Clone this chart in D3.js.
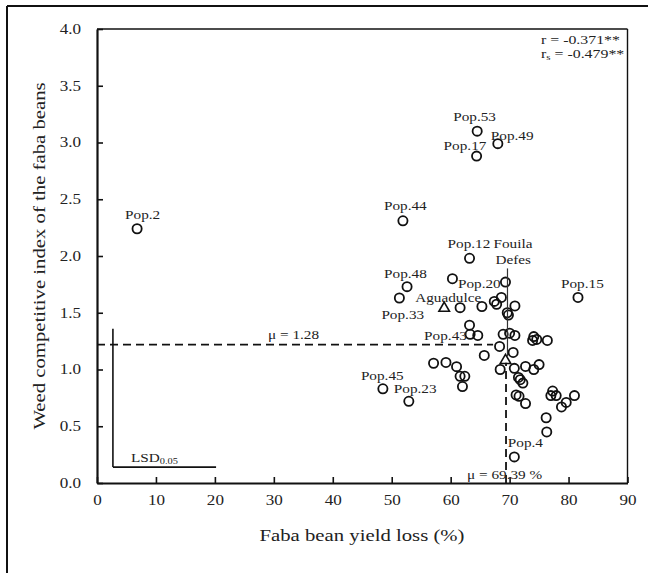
<!DOCTYPE html>
<html>
<head>
<meta charset="utf-8">
<script src="https://cdn.jsdelivr.net/npm/d3@7/dist/d3.min.js"></script>
<style>
  html, body { margin: 0; padding: 0; background: #fff; }
  svg { display: block; }
  text { font-family: "Liberation Serif", "Times New Roman", serif; fill: #222; }
</style>
</head>
<body>
<svg id="chart" width="648" height="573"></svg>
<script>
// ---------------- data ----------------
const popNames = ["Pop.2","Pop.44","Pop.53","Pop.49","Pop.17","Pop.12","Pop.48","Pop.33","Pop.15","Pop.45","Pop.23","Pop.4","Pop.20","Pop.43",
  "","","","","","","","","","","","","","","","","","","","","","","","","","","","","","","","","","","","","","","","","","","","","",""];
const yieldLoss = [6.8, 51.9, 64.5, 68.0, 64.4, 63.2, 52.6, 51.3, 81.6, 48.5, 52.9, 70.8, 60.3, 63.3,
  69.3, 68.6, 67.4, 67.8, 65.3, 61.6, 70.9, 69.6, 69.8, 63.2, 64.6, 68.9, 70.0, 70.9, 74.1, 73.9,
  74.6, 76.4, 65.7, 68.3, 70.6, 57.1, 59.2, 61.0, 61.6, 62.4, 62.0, 68.4, 70.8, 72.7, 74.1, 75.0,
  71.5, 71.8, 72.25, 71.1, 71.6, 72.7, 77.3, 77.0, 77.9, 81.0, 79.6, 78.8, 76.2, 76.3];
const competitiveIndex = [2.24, 2.31, 3.10, 2.99, 2.88, 1.98, 1.73, 1.63, 1.635, 0.83, 0.72, 0.23, 1.80, 1.31,
  1.77, 1.635, 1.60, 1.575, 1.555, 1.545, 1.56, 1.50, 1.48, 1.39, 1.30, 1.31, 1.32, 1.30, 1.29, 1.256,
  1.265, 1.256, 1.124, 1.203, 1.15, 1.055, 1.062, 1.025, 0.94, 0.94, 0.85, 1.00, 1.01, 1.027, 1.00, 1.043,
  0.93, 0.91, 0.88, 0.776, 0.764, 0.70, 0.81, 0.77, 0.77, 0.77, 0.71, 0.67, 0.575, 0.45];
const checkNames = ["Aguadulce", "Fouila Defes"];
const checkYieldLoss = [58.9, 69.3];
const checkIndex = [1.54, 1.08];
const xTicks = [0, 10, 20, 30, 40, 50, 60, 70, 80, 90];
const yTicks = [0, 0.5, 1.0, 1.5, 2.0, 2.5, 3.0, 3.5, 4.0];
const meanYieldLoss = 69.39;   // vertical dashed line
const meanIndexLine = 1.22;    // horizontal dashed line as drawn
const meanIndexLabel = "μ = 1.28";
const meanYieldLabel = "μ = 69.39 %";
const vLineTop = 1.06;         // top of vertical dashed line
const hLineEnd = 67.2;         // right end of horizontal dashed line
const lsdOrigin = [2.7, 0.14];
const lsdX = 17.5;
const lsdY = 1.22;
const corrPearson = "-0.371**";
const corrSpearman = "-0.479**";

// ---------------- layout ----------------
const K = 1.22; // horizontal text stretch
const svg = d3.select("#chart");
const x = d3.scaleLinear().domain([0, 90]).range([97, 627.5]);
const y = d3.scaleLinear().domain([0, 4]).range([483, 29]);

function addText(parent, px, py, str, size, anchor, rot) {
  const g = parent.append("g")
    .attr("transform", `translate(${px},${py})` + (rot ? ` rotate(${rot})` : "") + ` scale(${K},1)`);
  const t = g.append("text").attr("font-size", size).attr("text-anchor", anchor || "start").text(str);
  return t;
}

// outer frame (partially visible)
svg.append("line").attr("x1", 7).attr("y1", 6).attr("x2", 648).attr("y2", 6).attr("stroke", "#111").attr("stroke-width", 2);
svg.append("line").attr("x1", 7).attr("y1", 6).attr("x2", 7).attr("y2", 573).attr("stroke", "#111").attr("stroke-width", 2);

// plot box top/right
svg.append("line").attr("x1", x(0)).attr("y1", y(4)).attr("x2", x(90)).attr("y2", y(4)).attr("stroke", "#111").attr("stroke-width", 1.4);
svg.append("line").attr("x1", x(90)).attr("y1", y(4)).attr("x2", x(90)).attr("y2", y(0)).attr("stroke", "#111").attr("stroke-width", 1.4);

// axes
const xAxis = svg.append("g").attr("transform", `translate(0,${y(0)})`)
  .call(d3.axisBottom(x).tickValues(xTicks).tickSizeInner(-6).tickSizeOuter(0).tickPadding(12).tickFormat(d3.format("d")));
const yAxis = svg.append("g").attr("transform", `translate(${x(0)},0)`)
  .call(d3.axisLeft(y).tickValues(yTicks).tickSizeInner(-6).tickSizeOuter(0).tickPadding(16).tickFormat(d3.format(".1f")));
[xAxis, yAxis].forEach(a => {
  a.select(".domain").attr("stroke", "#111").attr("stroke-width", 2.2);
  a.selectAll(".tick line").attr("stroke", "#111").attr("stroke-width", 1.6);
  a.selectAll(".tick text").attr("font-size", 14).attr("fill", "#222")
    .attr("font-family", "Liberation Serif, serif");
});
xAxis.selectAll(".tick text").attr("transform", `scale(${K},1)`);
yAxis.selectAll(".tick text").attr("x", -16 / K).attr("transform", `scale(${K},1)`);

// axis titles
addText(svg, 362, 541, "Faba bean yield loss (%)", 17, "middle");
addText(svg, 45, 256, "Weed competitive index of the faba beans", 17, "middle", -90);

// mean lines
svg.append("line").attr("x1", x(0)).attr("x2", x(hLineEnd)).attr("y1", y(meanIndexLine)).attr("y2", y(meanIndexLine))
  .attr("stroke", "#111").attr("stroke-width", 1.8).attr("stroke-dasharray", "8,5");
svg.append("line").attr("x1", x(meanYieldLoss)).attr("x2", x(meanYieldLoss)).attr("y1", y(0)).attr("y2", y(vLineTop))
  .attr("stroke", "#111").attr("stroke-width", 1.8).attr("stroke-dasharray", "8,5");
addText(svg, 268, 339, meanIndexLabel, 12.5, "start");
addText(svg, 467, 479, meanYieldLabel, 12.5, "start");

// LSD bars
svg.append("line").attr("x1", x(lsdOrigin[0])).attr("x2", x(lsdOrigin[0])).attr("y1", y(lsdOrigin[1])).attr("y2", y(lsdOrigin[1] + lsdY))
  .attr("stroke", "#111").attr("stroke-width", 1.6);
svg.append("line").attr("x1", x(lsdOrigin[0])).attr("x2", x(lsdOrigin[0] + lsdX)).attr("y1", y(lsdOrigin[1])).attr("y2", y(lsdOrigin[1]))
  .attr("stroke", "#111").attr("stroke-width", 1.6);
{
  const t = addText(svg, 131, 462, "LSD", 12.5, "start");
  t.append("tspan").attr("font-size", 8.5).attr("dy", 1.5).text("0.05");
}

// correlation text
{
  const t1 = addText(svg, 541, 44, "r = " + corrPearson, 13, "start");
  const t2 = addText(svg, 541, 58, "r", 13, "start");
  t2.append("tspan").attr("font-size", 9).attr("dy", 2).text("s");
  t2.append("tspan").attr("dy", -2).text(" = " + corrSpearman);
}

// points
const pts = yieldLoss.map((v, i) => ({ name: popNames[i], x: v, y: competitiveIndex[i] }));
svg.append("g").selectAll("circle").data(pts).join("circle")
  .attr("cx", d => x(d.x)).attr("cy", d => y(d.y)).attr("r", 4.6)
  .attr("fill", "none").attr("stroke", "#111").attr("stroke-width", 1.8);

// check cultivars as triangles
const checks = checkYieldLoss.map((v, i) => ({ name: checkNames[i], x: v, y: checkIndex[i] }));
svg.append("g").selectAll("path").data(checks).join("path")
  .attr("d", d3.symbol().type(d3.symbolTriangle).size(48))
  .attr("transform", d => `translate(${x(d.x)},${y(d.y)})`)
  .attr("fill", "none").attr("stroke", "#111").attr("stroke-width", 1.6);

// point labels (offsets in px, start-anchored)
const labelOffsets = {
  "Pop.2": [-12, -10], "Pop.44": [-19, -11], "Pop.53": [-24, -10], "Pop.49": [-7, -4],
  "Pop.17": [-33, -6.5], "Pop.12": [-22, -10], "Pop.48": [-23, -8.5], "Pop.33": [-18, 21],
  "Pop.15": [-17, -9], "Pop.45": [-22, -9], "Pop.23": [-15, -8.5], "Pop.4": [-6.5, -10],
  "Pop.20": [5.5, 9], "Pop.43": [-46, 6]
};
pts.filter(d => d.name).forEach(d => {
  const o = labelOffsets[d.name] || [0, -10];
  addText(svg, x(d.x) + o[0], y(d.y) + o[1], d.name, 12.5, "start");
});
// Aguadulce
addText(svg, x(checks[0].x) - 29, y(checks[0].y) - 6.5, checks[0].name, 12.5, "start");
// Fouila Defes with leader
{
  const c = checks[1];
  const words = c.name.split(" ");
  addText(svg, x(c.x) - 12, y(c.y) - 112, words[0], 12.5, "start");
  addText(svg, x(c.x) - 10, y(c.y) - 96, words[1], 12.5, "start");
  svg.append("line").attr("x1", x(c.x) + 2).attr("x2", x(c.x) + 2)
    .attr("y1", y(c.y) - 92).attr("y2", y(c.y) - 4)
    .attr("stroke", "#333").attr("stroke-width", 1.2);
}
</script>
</body>
</html>
